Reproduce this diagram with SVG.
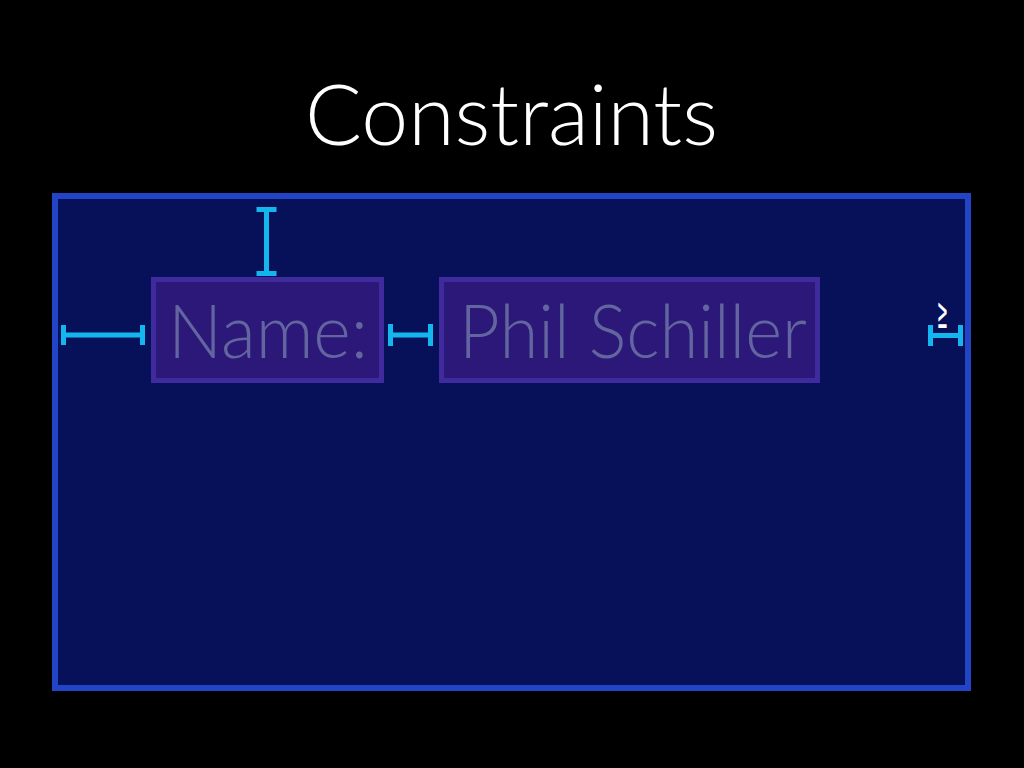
<svg xmlns="http://www.w3.org/2000/svg" width="1024" height="768" viewBox="0 0 1024 768">
  <style>
    .title { font-family: Lato, "Open Sans", "Liberation Sans", sans-serif; font-weight: 300; font-size: 84px; fill: #ffffff; }
    .field { fill: #2c1878; stroke: #3f2a9e; stroke-width: 5; }
    .label { font-family: Lato, "Open Sans", "Liberation Sans", sans-serif; font-weight: 300; font-size: 74px; fill: #62659f; }
    .bracket { fill: none; stroke: #14b6ee; stroke-width: 5; stroke-linecap: butt; }
    .sym { font-family: "DejaVu Sans", "Liberation Sans", sans-serif; font-size: 44px; fill: #ffffff; }
  </style>
  <rect x="0" y="0" width="1024" height="768" fill="#000000"/>
  <text class="title" x="305" y="145" textLength="413" lengthAdjust="spacingAndGlyphs">Constraints</text>
  <g id="container">
    <rect x="55" y="196" width="913" height="492" fill="#07115a" stroke="#2245c8" stroke-width="6"/>
  </g>
  <g id="name-label">
    <rect class="field" x="153.5" y="279.5" width="228" height="101"/>
    <text class="label" x="168" y="358" textLength="200" lengthAdjust="spacingAndGlyphs">Name:</text>
  </g>
  <g id="name-field">
    <rect class="field" x="441.5" y="279.5" width="376" height="101"/>
    <text class="label" x="459" y="358" textLength="348" lengthAdjust="spacingAndGlyphs">Phil Schiller</text>
  </g>
  <g id="connectors">
    <path class="bracket" d="M266.5,209.5 V273.5 M256.5,209.5 H276.5 M256.5,273.5 H276.5"/>
    <path class="bracket" d="M61,335 H145 M63.5,325 V345 M142.5,325 V345"/>
    <path class="bracket" d="M388,335 H433 M390.5,324 V346 M430.5,324 V346"/>
    <path class="bracket" d="M928,335.5 H963 M930.5,325 V346 M960.5,325 V346"/>
    <text class="sym" x="937" y="328" textLength="11" lengthAdjust="spacingAndGlyphs">≥</text>
  </g>
</svg>
